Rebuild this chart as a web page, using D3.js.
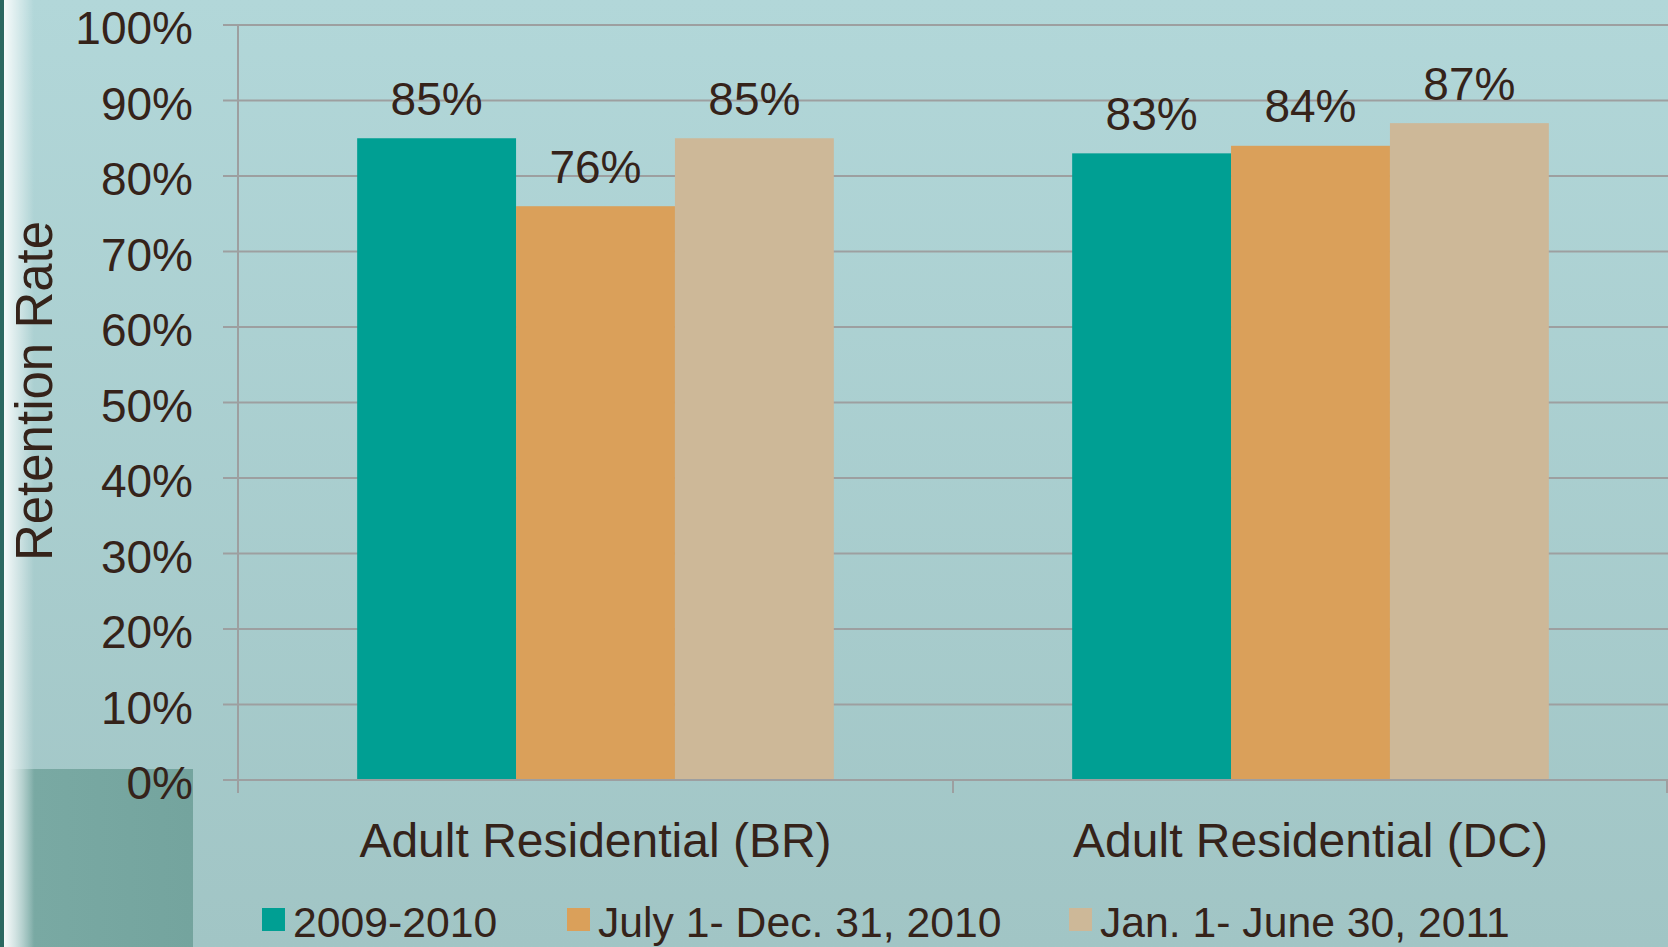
<html>
<head>
<script src="https://d3js.org/d3.v7.min.js"></script>
<style>
  body { margin: 0; overflow: hidden; }
  text { font-family: "Liberation Sans", Arial, sans-serif; fill: #35231a; }
</style>
</head>
<body>
<script>
  // chart data
  var categories = ["Adult Residential (BR)", "Adult Residential (DC)"];
  var seriesNames = ["2009-2010", "July 1- Dec. 31, 2010", "Jan. 1- June 30, 2011"];
  var seriesColors = ["#009f93", "#daa05a", "#cdb898"];
  var br = [0.85, 0.76, 0.85];
  var dc = [0.83, 0.84, 0.87];
  var yTicks = [0, 0.1, 0.2, 0.3, 0.4, 0.5, 0.6, 0.7, 0.8, 0.9, 1.0];

  const W = 1668, H = 947;
  var values = [br, dc];

  var svg = d3.select("body").append("svg").attr("width", W).attr("height", H);
  var defs = svg.append("defs");

  var bg = defs.append("linearGradient").attr("id", "bg").attr("x1", 0).attr("y1", 0).attr("x2", 0).attr("y2", 1);
  bg.append("stop").attr("offset", "0%").attr("stop-color", "#b2d7d9");
  bg.append("stop").attr("offset", "100%").attr("stop-color", "#a1c5c5");

  var edge = defs.append("linearGradient").attr("id", "edge").attr("x1", 0).attr("y1", 0).attr("x2", 1).attr("y2", 0);
  edge.append("stop").attr("offset", "0%").attr("stop-color", "#ffffff").attr("stop-opacity", 0.9);
  edge.append("stop").attr("offset", "100%").attr("stop-color", "#ffffff").attr("stop-opacity", 0);

  var box = defs.append("linearGradient").attr("id", "box").attr("x1", 0).attr("y1", 0).attr("x2", 1).attr("y2", 0);
  box.append("stop").attr("offset", "0%").attr("stop-color", "#a4c8c8");
  box.append("stop").attr("offset", "15%").attr("stop-color", "#79a9a3");
  box.append("stop").attr("offset", "100%").attr("stop-color", "#74a49e");

  svg.append("rect").attr("width", W).attr("height", H).attr("fill", "url(#bg)");
  svg.append("rect").attr("x", 7).attr("y", 769).attr("width", 186).attr("height", H - 769).attr("fill", "url(#box)");
  svg.append("rect").attr("x", 4).attr("y", 0).attr("width", 30).attr("height", H).attr("fill", "url(#edge)");
  svg.append("rect").attr("x", 0).attr("y", 0).attr("width", 4).attr("height", H).attr("fill", "#2c6861");

  var y = d3.scaleLinear().domain([0, 1]).range([780, 25]);
  var x0 = d3.scaleBand().domain(categories).range([238, 1668]);
  var x1 = d3.scaleBand().domain(seriesNames).range([0, x0.bandwidth()]).paddingInner(0).paddingOuter(0.75);

  // gridlines
  svg.selectAll(".grid").data(yTicks).enter().append("line")
    .attr("x1", 223).attr("x2", W)
    .attr("y1", d => y(d)).attr("y2", d => y(d))
    .attr("stroke", "#9d9fa0").attr("stroke-width", 2);

  svg.selectAll(".ylab").data(yTicks).enter().append("text")
    .attr("x", 193).attr("y", d => y(d) + 19)
    .attr("text-anchor", "end").attr("font-size", 46)
    .text(d => d3.format(".0%")(d));

  // axes lines
  svg.append("line").attr("x1", 238).attr("x2", 238).attr("y1", y(1)).attr("y2", 793)
    .attr("stroke", "#9d9fa0").attr("stroke-width", 2);
  var catEdges = [238, 238 + x0.bandwidth(), 238 + 2 * x0.bandwidth() - 1];
  svg.selectAll(".ctick").data(catEdges).enter().append("line")
    .attr("x1", d => d).attr("x2", d => d).attr("y1", 780).attr("y2", 793)
    .attr("stroke", "#9d9fa0").attr("stroke-width", 2);

  // bars
  var groups = svg.selectAll(".grp").data(categories).enter().append("g")
    .attr("transform", d => "translate(" + x0(d) + ",0)");

  groups.each(function (cat, ci) {
    var g = d3.select(this);
    var rows = seriesNames.map((s, si) => ({ s: s, v: values[ci][si], c: seriesColors[si] }));
    g.selectAll("rect").data(rows).enter().append("rect")
      .attr("x", d => x1(d.s)).attr("width", x1.bandwidth())
      .attr("y", d => y(d.v)).attr("height", d => y(0) - y(d.v))
      .attr("fill", d => d.c);
    g.selectAll(".lbl").data(rows).enter().append("text")
      .attr("x", d => x1(d.s) + x1.bandwidth() / 2)
      .attr("y", d => y(d.v) - 23.5)
      .attr("text-anchor", "middle").attr("font-size", 46)
      .text(d => Math.round(d.v * 100) + "%");
  });

  svg.append("line").attr("x1", 223).attr("x2", W).attr("y1", y(0)).attr("y2", y(0))
    .attr("stroke", "#9d9fa0").attr("stroke-width", 2);

  // category labels
  svg.selectAll(".cat").data(categories).enter().append("text")
    .attr("x", d => x0(d) + x0.bandwidth() / 2).attr("y", 856.5)
    .attr("text-anchor", "middle").attr("font-size", 48)
    .text(d => d);

  // y title
  svg.append("text")
    .attr("transform", "translate(52,391) rotate(-90)")
    .attr("text-anchor", "middle").attr("font-size", 51)
    .text("Retention Rate");

  // legend
  var legendX = [262, 567, 1069];
  var leg = svg.selectAll(".leg").data(seriesNames).enter().append("g");
  leg.append("rect")
    .attr("x", (d, i) => legendX[i]).attr("y", 908)
    .attr("width", 23).attr("height", 23)
    .attr("fill", (d, i) => seriesColors[i]);
  leg.append("text")
    .attr("x", (d, i) => legendX[i] + 31).attr("y", 937)
    .attr("font-size", 42.7)
    .text(d => d);
</script>
</body>
</html>
